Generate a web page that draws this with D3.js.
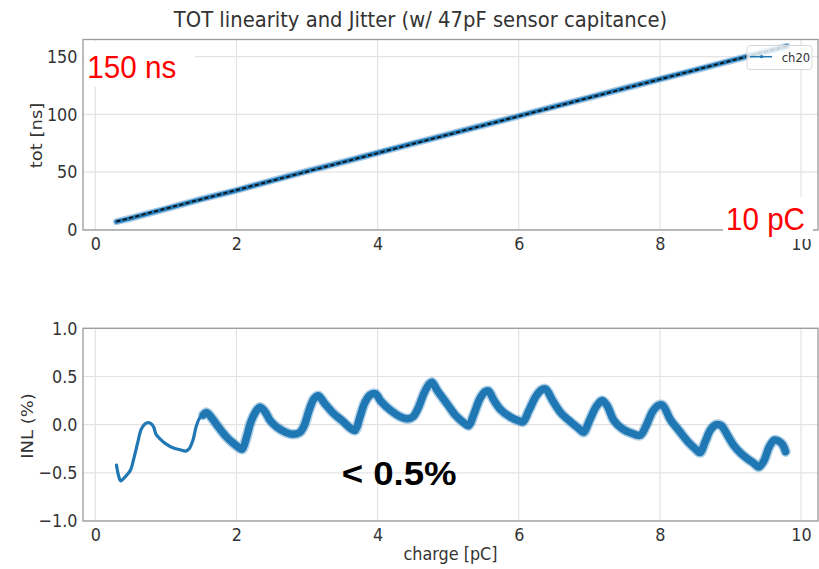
<!DOCTYPE html>
<html>
<head>
<meta charset="utf-8">
<script src="https://cdn.jsdelivr.net/npm/d3@7/dist/d3.min.js"></script>
<style>
  html, body { margin: 0; padding: 0; background: #fff; }
  svg { display: block; }
</style>
</head>
<body>
<svg id="chart" width="819" height="569"></svg>
<script>
// ---- data -------------------------------------------------------------
const chartTitle = "TOT linearity and Jitter (w/ 47pF sensor capitance)";

// TOT vs injected charge, channel ch20
const totCharge = [0.3, 0.5, 1.0, 1.5, 2.0, 2.5, 3.0, 3.5, 4.0, 4.5, 5.0, 5.5, 6.0, 6.5, 7.0, 7.5, 8.0, 8.5, 9.0, 9.5, 9.8];
const totValue  = [6.8, 9.8, 18.0, 26.3, 34.0, 42.4, 50.6, 58.4, 66.5, 74.6, 82.5, 90.5, 98.5, 106.6, 114.5, 122.6, 130.5, 138.4, 146.4, 154.3, 159.0];

// linear fit endpoints
const fitCharge = [0.3, 9.8];
const fitValue  = [7.0, 159.2];

// integral non-linearity (%) vs charge
const inlCharge = [0.30, 0.33, 0.36, 0.40, 0.45, 0.50, 0.55, 0.60, 0.65, 0.70, 0.75, 0.80, 0.83, 0.86, 0.92, 1.00, 1.10, 1.20, 1.28, 1.33,
  1.38, 1.43, 1.48, 1.53, 1.58, 1.65, 1.75, 1.85, 1.95, 2.02, 2.08, 2.14, 2.20, 2.27, 2.33, 2.40, 2.48, 2.58, 2.70, 2.80,
  2.90, 2.96, 3.03, 3.10, 3.16, 3.25, 3.37, 3.50, 3.62, 3.68, 3.75, 3.82, 3.90, 3.97, 4.05, 4.18, 4.30, 4.42, 4.50, 4.58,
  4.66, 4.73, 4.77, 4.85, 4.98, 5.10, 5.22, 5.29, 5.36, 5.45, 5.52, 5.57, 5.65, 5.75, 5.88, 6.00, 6.06, 6.14, 6.24, 6.32,
  6.38, 6.48, 6.60, 6.75, 6.85, 6.92, 7.00, 7.10, 7.18, 7.25, 7.35, 7.48, 7.60, 7.72, 7.80, 7.90, 7.98, 8.04, 8.15, 8.28,
  8.40, 8.50, 8.57, 8.64, 8.72, 8.80, 8.87, 8.95, 9.05, 9.15, 9.25, 9.33, 9.40, 9.47, 9.55, 9.62, 9.68, 9.74, 9.78];
const inlValue = [-0.42, -0.53, -0.585, -0.56, -0.52, -0.47, -0.34, -0.19, -0.05, 0.005, 0.02, 0.005, -0.03, -0.10, -0.15, -0.20, -0.24, -0.26, -0.275, -0.25,
  -0.17, -0.02, 0.07, 0.10, 0.125, 0.07, -0.03, -0.12, -0.19, -0.23, -0.255, -0.14, 0.02, 0.13, 0.18, 0.14, 0.04, -0.03, -0.08, -0.10,
  -0.08, -0.01, 0.15, 0.27, 0.30, 0.22, 0.12, 0.04, -0.04, -0.06, 0.08, 0.23, 0.31, 0.32, 0.24, 0.15, 0.09, 0.06, 0.08, 0.18,
  0.33, 0.42, 0.44, 0.35, 0.22, 0.10, 0.02, -0.01, 0.10, 0.27, 0.34, 0.35, 0.25, 0.15, 0.08, 0.04, 0.03, 0.14, 0.29, 0.36,
  0.37, 0.25, 0.12, 0.02, -0.04, -0.08, 0.04, 0.19, 0.25, 0.20, 0.04, -0.05, -0.09, -0.11, -0.02, 0.14, 0.20, 0.20, 0.05, -0.07,
  -0.18, -0.25, -0.29, -0.18, -0.05, 0.00, -0.01, -0.10, -0.22, -0.30, -0.36, -0.40, -0.44, -0.38, -0.23, -0.16, -0.17, -0.21, -0.28];
// above this charge the points scatter into a wide band
const inlWideFrom = 1.53;

const xTicks = [0, 2, 4, 6, 8, 10];
const totTicks = [0, 50, 100, 150];
const inlTicks = [-1.0, -0.5, 0.0, 0.5, 1.0];

const seriesName = "ch20";
const xLabel = "charge [pC]";
const totLabel = "tot [ns]";
const inlLabel = "INL (%)";
const noteTot = "150 ns";
const noteCharge = "10 pC";
const noteInl = "< 0.5%";

// ---- setup ------------------------------------------------------------
const svg = d3.select("#chart");
const BLUE = "#1f77b4";
const TEXT = "#333";
const GRID = "#e3e3e3";
const SPINE = "#9a9a9a";
const FONT = "DejaVu Sans, sans-serif";
const SQUEEZE = 0.89;

function squeeze(sel, factor) {
  sel.each(function () {
    const w = this.getComputedTextLength();
    this.setAttribute("textLength", w * factor);
    this.setAttribute("lengthAdjust", "spacingAndGlyphs");
  });
}

const left = 83, right = 818;
const x = d3.scaleLinear().domain([-0.174, 10.24]).range([left, right]);

const topY = d3.scaleLinear().domain([-0.4, 164.9]).range([230, 39.5]);
const botY = d3.scaleLinear().domain([-1, 1]).range([521, 328.3]);

function panel(yScale, yTicks, yFmt) {
  const g = svg.append("g");
  const [y0, y1] = yScale.range();
  // grid
  g.append("g").selectAll("line.gx").data(xTicks).join("line")
    .attr("x1", d => x(d)).attr("x2", d => x(d))
    .attr("y1", y1).attr("y2", y0)
    .attr("stroke", GRID).attr("stroke-width", 1.2);
  g.append("g").selectAll("line.gy").data(yTicks).join("line")
    .attr("x1", left).attr("x2", right)
    .attr("y1", d => yScale(d)).attr("y2", d => yScale(d))
    .attr("stroke", GRID).attr("stroke-width", 1.2);

  // axes
  const ax = g.append("g").attr("transform", `translate(0,${y0})`)
    .call(d3.axisBottom(x).tickValues(xTicks).tickSize(0).tickPadding(7.5).tickFormat(d3.format("d")));
  const ay = g.append("g").attr("transform", `translate(${left},0)`)
    .call(d3.axisLeft(yScale).tickValues(yTicks).tickSize(0).tickPadding(5.5).tickFormat(yFmt));
  [ax, ay].forEach(a => {
    a.select(".domain").remove();
    a.selectAll("text").attr("fill", TEXT).style("font-family", FONT).style("font-size", "18px");
    squeeze(a.selectAll("text"), SQUEEZE);
  });

  // frame
  g.append("rect")
    .attr("x", left).attr("y", y1)
    .attr("width", right - left).attr("height", y0 - y1)
    .attr("fill", "none").attr("stroke", SPINE).attr("stroke-width", 1.3);
  return g;
}

// ---- title ------------------------------------------------------------
const title = svg.append("text")
  .attr("x", 420.5).attr("y", 26.5)
  .attr("text-anchor", "middle")
  .attr("fill", TEXT)
  .style("font-family", FONT).style("font-size", "22px")
  .text(chartTitle);
squeeze(title, SQUEEZE);

// ---- top panel: TOT ---------------------------------------------------
const topPanel = panel(topY, totTicks, d3.format("d"));

const totPts = totCharge.map((c, i) => [c, totValue[i]]);
const totLine = d3.line().x(d => x(d[0])).y(d => topY(d[1]));
topPanel.append("path").datum(totPts)
  .attr("d", totLine).attr("fill", "none")
  .attr("stroke", "#a9cbe6").attr("stroke-width", 7).attr("stroke-linecap", "round");
topPanel.append("path").datum(totPts)
  .attr("d", totLine).attr("fill", "none")
  .attr("stroke", BLUE).attr("stroke-width", 4.2).attr("stroke-linecap", "round");
topPanel.append("path").datum(fitCharge.map((c, i) => [c, fitValue[i]]))
  .attr("d", totLine).attr("fill", "none")
  .attr("stroke", "#111").attr("stroke-width", 1.8).attr("stroke-dasharray", "4,2.5");

// legend
const lg = topPanel.append("g");
lg.append("rect")
  .attr("x", 747).attr("y", 45.5).attr("width", 65).attr("height", 24).attr("rx", 3)
  .attr("fill", "#fff").attr("fill-opacity", 0.8)
  .attr("stroke", "#d8d8d8").attr("stroke-width", 1);
lg.append("line")
  .attr("x1", 750).attr("x2", 772).attr("y1", 56.7).attr("y2", 56.7)
  .attr("stroke", BLUE).attr("stroke-width", 1.5);
lg.append("circle").attr("cx", 761.5).attr("cy", 56.7).attr("r", 1.6).attr("fill", BLUE);
const lgText = lg.append("text")
  .attr("x", 781.7).attr("y", 61.5)
  .attr("fill", TEXT).style("font-family", FONT).style("font-size", "13px")
  .text(seriesName);
squeeze(lgText, SQUEEZE);

// axis label
svg.append("text")
  .attr("transform", `translate(41.5,135.5) rotate(-90) scale(1,${SQUEEZE})`)
  .attr("text-anchor", "middle")
  .attr("fill", TEXT).style("font-family", FONT).style("font-size", "18px")
  .text(totLabel);

// ---- bottom panel: INL ------------------------------------------------
const botPanel = panel(botY, inlTicks, d3.format(".1f"));

const inlPts = inlCharge.map((c, i) => [c, inlValue[i]]);
const inlLine = d3.line().x(d => x(d[0])).y(d => botY(d[1])).curve(d3.curveCatmullRom.alpha(0.5));
const narrow = inlPts.filter(d => d[0] <= inlWideFrom + 0.05);
const wide = inlPts.filter(d => d[0] >= inlWideFrom);
// soft outer scatter of the wide band
botPanel.append("path").datum(wide)
  .attr("d", inlLine).attr("fill", "none")
  .attr("stroke", BLUE).attr("stroke-opacity", 0.35).attr("stroke-width", 10.5)
  .attr("stroke-linejoin", "round").attr("stroke-linecap", "round");
botPanel.append("path").datum(narrow)
  .attr("d", inlLine).attr("fill", "none")
  .attr("stroke", BLUE).attr("stroke-width", 3.2).attr("stroke-linejoin", "round").attr("stroke-linecap", "round");
botPanel.append("path").datum(wide)
  .attr("d", inlLine).attr("fill", "none")
  .attr("stroke", BLUE).attr("stroke-width", 7.5).attr("stroke-linejoin", "round").attr("stroke-linecap", "round");

const xl = svg.append("text")
  .attr("x", 450.5).attr("y", 559.5)
  .attr("text-anchor", "middle")
  .attr("fill", TEXT).style("font-family", FONT).style("font-size", "18px")
  .text(xLabel);
squeeze(xl, SQUEEZE);

svg.append("text")
  .attr("transform", `translate(33,426) rotate(-90) scale(1,${SQUEEZE})`)
  .attr("text-anchor", "middle")
  .attr("fill", TEXT).style("font-family", FONT).style("font-size", "18px")
  .text(inlLabel);

// ---- annotations ------------------------------------------------------
svg.append("rect").attr("x", 84).attr("y", 41).attr("width", 111).attr("height", 46).attr("fill", "#fff");
svg.append("rect").attr("x", 723).attr("y", 197).attr("width", 90).attr("height", 42).attr("fill", "#fff");

const n1 = svg.append("text")
  .attr("x", 87.3).attr("y", 78.3)
  .attr("fill", "#ff0000").style("font-family", "Liberation Sans, Arial, sans-serif").style("font-size", "32px")
  .text(noteTot);
n1.attr("textLength", 89).attr("lengthAdjust", "spacingAndGlyphs");

const n2 = svg.append("text")
  .attr("x", 726).attr("y", 230)
  .attr("fill", "#ff0000").style("font-family", "Liberation Sans, Arial, sans-serif").style("font-size", "32px")
  .text(noteCharge);
n2.attr("textLength", 79).attr("lengthAdjust", "spacingAndGlyphs");

const n3 = svg.append("text")
  .attr("x", 341.7).attr("y", 485)
  .attr("fill", "#000").style("font-family", "Liberation Sans, Arial, sans-serif")
  .style("font-size", "33px").style("font-weight", "bold")
  .text(noteInl);
n3.attr("textLength", 115).attr("lengthAdjust", "spacingAndGlyphs");
</script>
</body>
</html>
